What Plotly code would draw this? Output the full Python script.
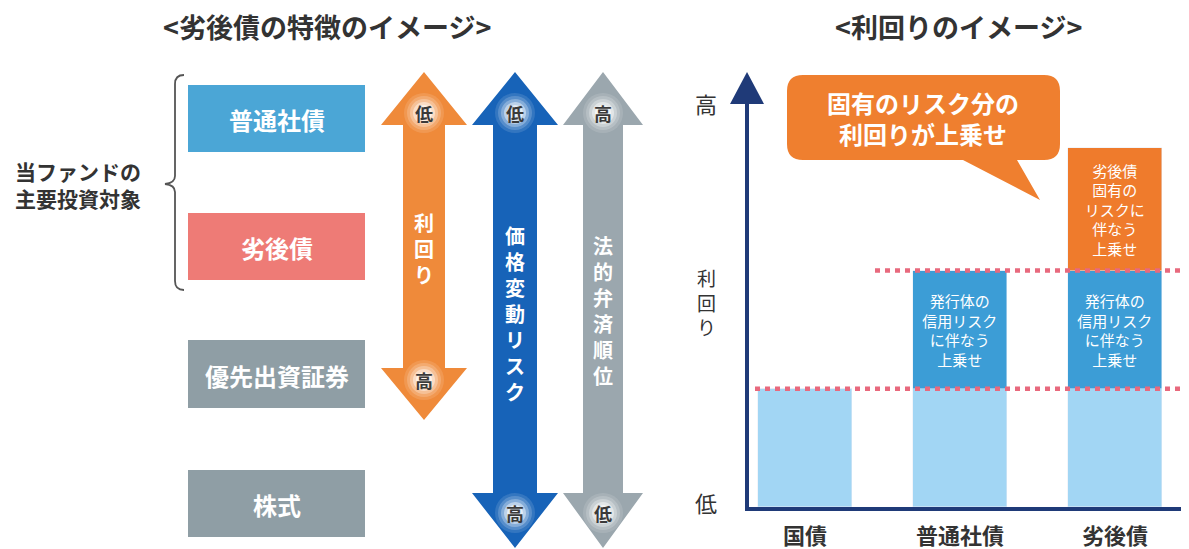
import plotly.graph_objects as go

W, H = 1189, 549
OFF = 8  # page body margin of the browser: the figure starts 8px right/down
FONT = "Noto Sans CJK JP"

# ---------------- data ----------------
left_title = "<劣後債の特徴のイメージ>"
right_title = "<利回りのイメージ>"
box_labels = ["普通社債", "劣後債", "優先出資証券", "株式"]
bracket_label = ["当ファンドの", "主要投資対象"]
arrow_texts = ["利回り", "価格変動リスク", "法的弁済順位"]
arrow_ends = [("低", "高"), ("低", "高"), ("高", "低")]

categories = ["国債", "普通社債", "劣後債"]
base_yield = [3.0, 3.0, 3.0]          # 国債並みの利回り部分
credit_premium = [0.0, 3.0, 3.0]      # 発行体の信用リスクに伴なう上乗せ
sub_premium = [0.0, 0.0, 3.1]         # 劣後債固有のリスクに伴なう上乗せ
credit_text = ["", "発行体の<br>信用リスク<br>に伴なう<br>上乗せ", "発行体の<br>信用リスク<br>に伴なう<br>上乗せ"]
sub_text = ["", "", "劣後債<br>固有の<br>リスクに<br>伴なう<br>上乗せ"]
y_axis_labels = ["高", "利回り", "低"]
bubble_text = ["固有のリスク分の", "利回りが上乗せ"]

# ---------------- styles ----------------
box_colors = ["#4ba6d6", "#ee7b76", "#8f9ea5", "#8f9ea5"]
arrow_colors = ["#ef8a3a", "#1763b8", "#9ba7ae"]
c_light, c_mid, c_orange = "#a2d6f4", "#3c9dd6", "#ef7b2c"
navy = "#1f3a78"
dot_color = "#e8697d"
txt_dark = "#333333"

fig = go.Figure()

# invisible anchor trace for the drawing canvas (screen-pixel coordinates)
fig.add_trace(go.Scatter(x=[100], y=[100], mode="markers", marker=dict(opacity=0),
                         hoverinfo="skip", showlegend=False, xaxis="x", yaxis="y"))

bar_w = 0.61
fig.add_trace(go.Bar(x=categories, y=base_yield, marker_color=c_light, width=bar_w,
                     xaxis="x2", yaxis="y2", showlegend=False, hoverinfo="skip"))
fig.add_trace(go.Bar(x=categories, y=credit_premium, marker_color=c_mid, width=bar_w,
                     text=credit_text, textposition="inside", insidetextanchor="middle",
                     constraintext="none",
                     textfont=dict(family=FONT, size=15, color="white"),
                     xaxis="x2", yaxis="y2", showlegend=False, hoverinfo="skip"))
fig.add_trace(go.Bar(x=categories, y=sub_premium, marker_color=c_orange, width=bar_w,
                     text=sub_text, textposition="inside", insidetextanchor="middle",
                     constraintext="none",
                     textfont=dict(family=FONT, size=15, color="white"),
                     xaxis="x2", yaxis="y2", showlegend=False, hoverinfo="skip"))

shapes = []
ann = []


def A(x, y, text, size, color=txt_dark, bold=False):
    if bold:
        text = "<b>" + text + "</b>"
    ann.append(dict(x=x, y=y, xref="x", yref="y", text=text, showarrow=False,
                    font=dict(family=FONT, size=size, color=color),
                    xanchor="center", yanchor="middle"))


def vtext(x, ymid, s, size, color=txt_dark, bold=False):
    A(x, ymid, "<br>".join(list(s)), size, color, bold)


def esc(s):
    return s.replace("<", "&lt;").replace(">", "&gt;")


# titles
A(327, 26, esc(left_title), 27, bold=True)
A(958, 26, esc(right_title), 27, bold=True)

# left boxes
box_y = [(85, 152), (213, 280), (340, 408), (470, 537)]
for lab, col, (y0, y1) in zip(box_labels, box_colors, box_y):
    shapes.append(dict(type="rect", xref="x", yref="y", x0=188, x1=365, y0=y0, y1=y1,
                       fillcolor=col, line=dict(width=0)))
    A(276.5, (y0 + y1) / 2 + 1, lab, 24, color="white", bold=True)

# brace
shapes.append(dict(type="path", xref="x", yref="y",
                   path="M 184 75 Q 175 75 175 84 L 175 176 Q 175 183 165 184 "
                        "Q 175 185 175 192 L 175 281 Q 175 290 184 290",
                   line=dict(color="#555555", width=1.8), fillcolor="rgba(0,0,0,0)"))
A(78, 184, "<br>".join(bracket_label), 21, bold=True)


def darrow(cx, sw, hw, y0, y1, y2, y3):
    return (f"M {cx} {y0} L {cx+hw} {y1} L {cx+sw} {y1} L {cx+sw} {y2} L {cx+hw} {y2} "
            f"L {cx} {y3} L {cx-hw} {y2} L {cx-sw} {y2} L {cx-sw} {y1} L {cx-hw} {y1} Z")


arrow_geo = [
    (424, 21, 43, 72, 125, 368, 420),
    (515, 22, 43, 72, 125, 493, 548),
    (603, 20, 40, 72, 125, 493, 548),
]
label_y = [(113, 380), (113, 513), (113, 513)]
text_cy = [248, 313, 310]
for geo, col, (ta, tb), (ly0, ly1), lab, cy in zip(arrow_geo, arrow_colors, arrow_ends,
                                                  label_y, arrow_texts, text_cy):
    cx = geo[0]
    shapes.append(dict(type="path", xref="x", yref="y", path=darrow(*geo),
                       fillcolor=col, line=dict(width=0)))
    for ly in (ly0, ly1):
        for rr, op in ((20, 0.12), (17, 0.18), (14, 0.28), (11, 0.45), (8, 0.6)):
            shapes.append(dict(type="circle", xref="x", yref="y", x0=cx - rr, x1=cx + rr,
                               y0=ly - rr, y1=ly + rr, fillcolor=f"rgba(255,255,255,{op})",
                               line=dict(width=0)))
    A(cx, ly0, ta, 18, color="#3a3a3a", bold=True)
    A(cx, ly1, tb, 18, color="#3a3a3a", bold=True)
    vtext(cx, cy, lab, 20, color="white", bold=True)

# y-axis arrowhead of the yield chart
shapes.append(dict(type="path", xref="x", yref="y",
                   path="M 730 104 L 764 104 L 747 72 Z", fillcolor=navy, line=dict(width=0)))
A(706, 103, y_axis_labels[0], 22)
vtext(706, 302, y_axis_labels[1], 19)
A(706, 502, y_axis_labels[2], 22)

# dotted reference lines (through the bar value axis)
lvl1 = base_yield[0]
lvl2 = base_yield[1] + credit_premium[1]
shapes.append(dict(type="line", xref="x", yref="y2", x0=755, x1=1197, y0=lvl1, y1=lvl1,
                   line=dict(color=dot_color, width=4.5, dash="5px,5px")))
shapes.append(dict(type="line", xref="x", yref="y2", x0=875, x1=1197, y0=lvl2, y1=lvl2,
                   line=dict(color=dot_color, width=4.5, dash="5px,5px")))

# speech bubble
bx0, bx1, by0, by1, r = 787, 1060, 75, 160, 16
bubble = (f"M {bx0+r} {by0} L {bx1-r} {by0} Q {bx1} {by0} {bx1} {by0+r} "
          f"L {bx1} {by1-r} Q {bx1} {by1} {bx1-r} {by1} L 1017 {by1} L 1040 200 L 963 {by1} "
          f"L {bx0+r} {by1} Q {bx0} {by1} {bx0} {by1-r} L {bx0} {by0+r} Q {bx0} {by0} {bx0+r} {by0} Z")
shapes.append(dict(type="path", xref="x", yref="y", path=bubble, fillcolor="#ef7f2f",
                   line=dict(width=0)))
A(923, 118, "<br>".join(bubble_text), 24, color="white", bold=True)

# screen px -> figure fraction helpers
fx = lambda px: (px - OFF) / W
fy = lambda py: 1 - (py - OFF) / H

x_left_px, x_right_px = 749, W + OFF
px_per_cat, cat0_px = 155, 805

fig.update_layout(
    width=W, height=H,
    margin=dict(l=0, r=0, t=0, b=0),
    paper_bgcolor="white", plot_bgcolor="rgba(0,0,0,0)",
    barmode="stack", bargap=0,
    shapes=shapes, annotations=ann,
    xaxis=dict(domain=[0, 1], range=[OFF, W + OFF], visible=False, fixedrange=True),
    yaxis=dict(domain=[0, 1], range=[H + OFF, OFF], visible=False, fixedrange=True),
    xaxis2=dict(domain=[fx(x_left_px), 1], anchor="y2",
                range=[(x_left_px - cat0_px) / px_per_cat, (x_right_px - cat0_px) / px_per_cat],
                showline=True, linecolor=navy, linewidth=4, showgrid=False,
                zeroline=False, ticks="", ticklabelstandoff=7,
                tickmode="array", tickvals=categories,
                ticktext=["<b>" + c + "</b>" for c in categories],
                tickfont=dict(family=FONT, size=22, color=txt_dark)),
    yaxis2=dict(domain=[fy(507), fy(103)], anchor="x2", range=[0, 10.25],
                showline=True, linecolor=navy, linewidth=4, showgrid=False,
                zeroline=False, showticklabels=False, ticks=""),
)

fig.write_html("out.html")
